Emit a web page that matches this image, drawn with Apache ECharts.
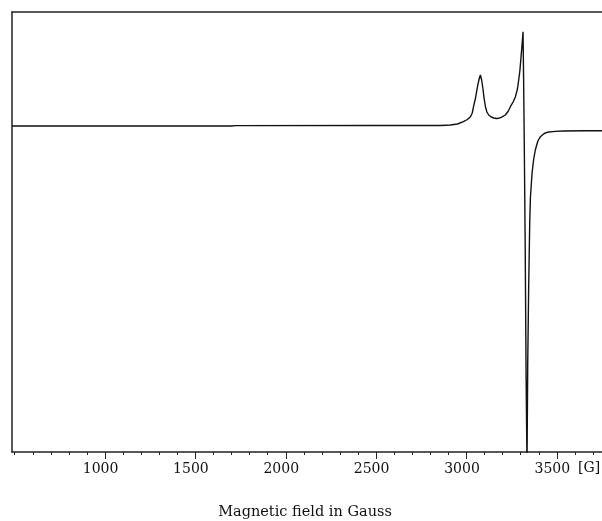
<!DOCTYPE html>
<html>
<head>
<meta charset="utf-8">
<script src="https://cdn.jsdelivr.net/npm/echarts@6/dist/echarts.min.js"></script>
<style>
    html, body { margin: 0; padding: 0; background: #fff; }
    #chart { width: 602px; height: 521px; }
</style>
</head>
<body>
<div id="chart"></div>
<script>
// magnetic field (G) and signal intensity (arb. units)
const field = [
    485, 1000, 1700, 1720, 2500, 2856, 2911, 2950, 2983, 3005,
    3022, 3032, 3039, 3050, 3061, 3070, 3077, 3084, 3092, 3098,
    3105, 3113, 3123, 3137, 3151, 3165, 3178, 3195, 3215, 3230,
    3243, 3258, 3271, 3282, 3289, 3296, 3302, 3308, 3313, 3316,
    3320, 3325, 3330, 3335, 3339, 3344, 3350, 3354, 3363, 3372,
    3381, 3395, 3409, 3430, 3446, 3490, 3536, 3650, 3750
];
const intensity = [
    0, 0, 0, 0.4, 0.5, 0.5, 1, 2, 4.3, 6.5,
    9.3, 13, 19.3, 28, 39.3, 47, 51, 46, 36, 27,
    19.3, 14, 11, 9, 8, 7.5, 7.7, 8.8, 11, 14.5,
    19.3, 24, 29.3, 37, 46, 56, 69.3, 82, 94.3, 50,
    -20, -120, -250, -340, -237, -164, -97, -71, -47, -33,
    -24, -15, -10.7, -7.5, -6.3, -5.4, -5, -4.8, -4.7
];

const majorTicks = [1000, 1500, 2000, 2500, 3000, 3500];
const minorTicks = [
    500, 600, 700, 800, 900, 1000, 1100, 1200, 1300, 1400,
    1500, 1600, 1700, 1800, 1900, 2000, 2100, 2200, 2300, 2400,
    2500, 2600, 2700, 2800, 2900, 3000, 3100, 3200, 3300, 3400,
    3500, 3600, 3700
];
const unitLabel = '[G]';
const axisTitle = 'Magnetic field in Gauss';

const chart = echarts.init(document.getElementById('chart'));
const serif = 'DejaVu Serif';
const frame = { color: '#222', width: 1.5 };

const option = {
    animation: false,
    grid: {
        left: 12,
        right: 0, // frame is open on the right, like the original
        top: 12,
        bottom: 69
    },
    xAxis: [
        {
            // bottom frame line + minor ticks
            type: 'value',
            min: 485,
            max: 3750,
            position: 'bottom',
            axisLine: { show: true, onZero: false, lineStyle: frame },
            splitLine: { show: false },
            axisTick: {
                show: true,
                length: 3,
                customValues: minorTicks,
                lineStyle: { color: '#222', width: 1 }
            },
            axisLabel: { show: false }
        },
        {
            // major ticks and labels
            type: 'value',
            min: 485,
            max: 3750,
            position: 'bottom',
            axisLine: { show: false, onZero: false },
            splitLine: { show: false },
            axisTick: {
                show: true,
                length: 7,
                customValues: majorTicks,
                lineStyle: { color: '#222', width: 1 }
            },
            axisLabel: {
                customValues: majorTicks,
                formatter: (v) => String(v),
                margin: 10,
                padding: [0, 9, 0, 0],
                color: '#111',
                fontFamily: serif,
                fontSize: 14
            }
        },
        {
            // top frame line
            type: 'value',
            min: 485,
            max: 3750,
            position: 'top',
            axisLine: { show: true, onZero: false, lineStyle: frame },
            axisTick: { show: false },
            axisLabel: { show: false },
            splitLine: { show: false }
        }
    ],
    yAxis: {
        type: 'value',
        min: -326,
        max: 114,
        axisLine: { show: true, onZero: false, lineStyle: frame },
        axisTick: { show: false },
        axisLabel: { show: false },
        splitLine: { show: false }
    },
    graphic: [
        {
            type: 'text',
            left: 578,
            top: 461,
            style: {
                text: unitLabel,
                fill: '#111',
                font: '14px "DejaVu Serif"'
            }
        },
        {
            type: 'text',
            x: 305,
            y: 512,
            style: {
                text: axisTitle,
                fill: '#111',
                font: '14.5px "DejaVu Serif"',
                align: 'center',
                verticalAlign: 'middle'
            }
        }
    ],
    series: [
        {
            type: 'line',
            xAxisIndex: 0,
            data: field.map((f, i) => [f, intensity[i]]),
            showSymbol: false,
            smooth: false,
            clip: true,
            lineStyle: { color: '#111', width: 1.4 }
        }
    ]
};

chart.setOption(option);
</script>
</body>
</html>
